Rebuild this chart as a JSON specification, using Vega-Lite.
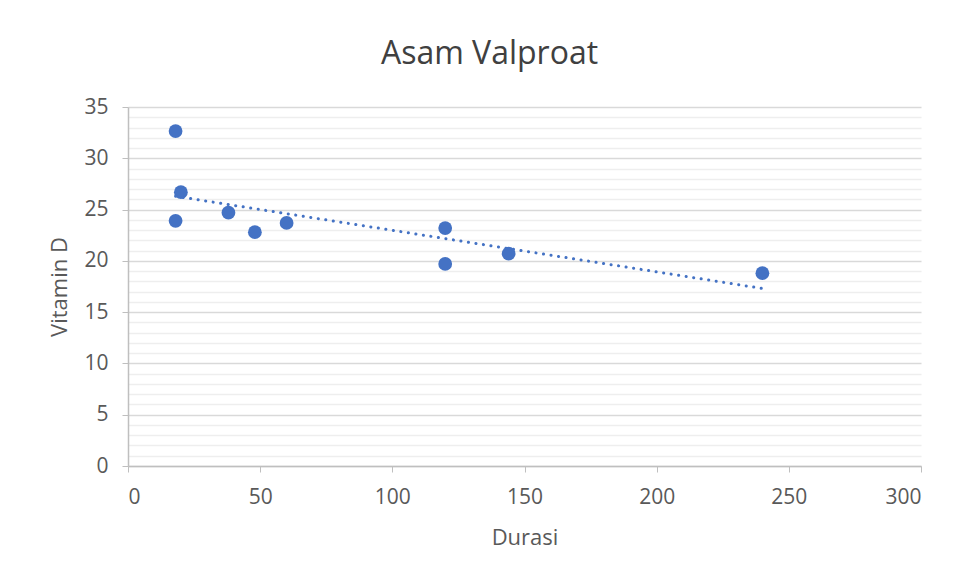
{
  "$schema": "https://vega.github.io/schema/vega-lite/v6.json",
  "autosize": {"type": "none"},
  "width": 793,
  "height": 359,
  "padding": {"left": 128, "top": 107, "right": 39, "bottom": 114},
  "background": "white",
  "title": {"text": "Asam Valproat", "fontSize": 32, "font": "Open Sans", "fontWeight": "normal", "color": "#404040", "anchor": "middle", "offset": 25, "dx": -35},
  "config": {"view": {"stroke": null}, "font": "Open Sans"},
  "data": {"values": [
    {"Durasi": 18, "VitaminD": 32.65},
    {"Durasi": 20, "VitaminD": 26.7},
    {"Durasi": 18, "VitaminD": 23.9},
    {"Durasi": 38, "VitaminD": 24.7},
    {"Durasi": 48, "VitaminD": 22.8},
    {"Durasi": 60, "VitaminD": 23.7},
    {"Durasi": 120, "VitaminD": 23.2},
    {"Durasi": 120, "VitaminD": 19.7},
    {"Durasi": 144, "VitaminD": 20.7},
    {"Durasi": 240, "VitaminD": 18.8}
  ]},
  "layer": [
    {
      "mark": {"type": "point", "filled": true, "opacity": 1, "size": 190, "color": "#4472C4"},
      "encoding": {
        "x": {"field": "Durasi", "type": "quantitative", "scale": {"domain": [0, 300], "nice": false},
          "axis": {"values": [0, 50, 100, 150, 200, 250, 300], "tickCount": 10, "grid": false, "domainColor": "#bfbfbf", "domainWidth": 1.5, "tickColor": "#bfbfbf", "tickSize": 6, "labelFontSize": 21, "labelColor": "#595959", "labelPadding": 14, "labelOverlap": false, "title": "Durasi", "titleFontSize": 22, "titleFontWeight": "normal", "titleColor": "#595959", "titlePadding": 20}},
        "y": {"field": "VitaminD", "type": "quantitative", "scale": {"domain": [0, 35], "nice": false},
          "axis": {
            "values": [0,1,2,3,4,5,6,7,8,9,10,11,12,13,14,15,16,17,18,19,20,21,22,23,24,25,26,27,28,29,30,31,32,33,34,35],
            "tickCount": 40,
            "labelExpr": "datum.value % 5 === 0 ? datum.label : ''",
            "labelOverlap": false,
            "grid": true,
            "gridColor": {"condition": {"test": "datum.value % 5 === 0", "value": "#d9d9d9"}, "value": "#eeeeee"},
            "gridWidth": 1.5,
            "tickOpacity": {"condition": {"test": "datum.value % 5 === 0", "value": 1}, "value": 0},
            "tickColor": "#bfbfbf", "tickSize": 6,
            "domainColor": "#bfbfbf", "domainWidth": 1.5,
            "labelFontSize": 21, "labelColor": "#595959", "labelPadding": 14,
            "title": "Vitamin D", "titleFontSize": 22, "titleFontWeight": "normal", "titleColor": "#595959", "titlePadding": 12}}
      }
    },
    {
      "transform": [{"regression": "VitaminD", "on": "Durasi"}],
      "mark": {"type": "line", "color": "#4472C4", "strokeWidth": 3, "strokeDash": [0.1, 7.5], "strokeCap": "round"},
      "encoding": {
        "x": {"field": "Durasi", "type": "quantitative"},
        "y": {"field": "VitaminD", "type": "quantitative"}
      }
    }
  ]
}
